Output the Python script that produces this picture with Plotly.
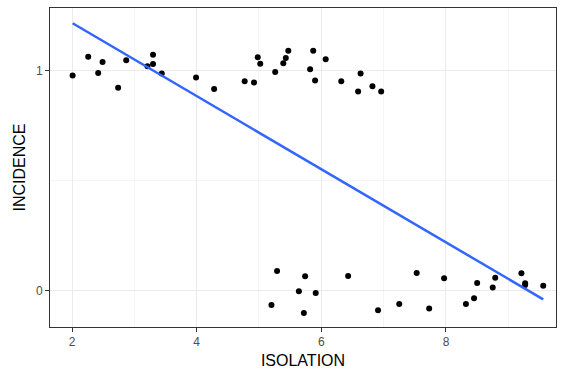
import numpy as np
import plotly.graph_objects as go

isolation = [2.01, 2.26, 2.42, 2.49, 2.74, 2.87, 3.21, 3.30, 3.30, 3.44, 3.99, 4.28, 4.77, 4.92,
             4.98, 5.02, 5.26, 5.39, 5.43, 5.47, 5.82, 5.87, 5.90, 6.07, 6.32, 6.59, 6.63, 6.82, 6.96,
             5.20, 5.29, 5.64, 5.72, 5.74, 5.91, 6.43, 6.91, 7.25, 7.53, 7.73, 7.97, 8.32, 8.45,
             8.50, 8.75, 8.79, 9.21, 9.27, 9.27, 9.56]
incidence = [0.979, 1.064, 0.991, 1.041, 0.923, 1.049, 1.021, 1.073, 1.032, 0.988, 0.970, 0.918, 0.953, 0.947,
             1.062, 1.033, 0.995, 1.035, 1.059, 1.092, 1.008, 1.092, 0.956, 1.053, 0.953, 0.906, 0.988, 0.930, 0.906,
             -0.064, 0.091, -0.001, -0.100, 0.067, -0.010, 0.068, -0.088, -0.060, 0.082, -0.080, 0.058, -0.059, -0.033,
             0.036, 0.015, 0.060, 0.080, 0.035, 0.027, 0.024]

x = np.array(isolation)
y = np.round(np.array(incidence))
slope, intercept = np.polyfit(x, y, 1)
xl = np.array([x.min(), x.max()])
yl = intercept + slope * xl

fig = go.Figure()
fig.add_trace(go.Scatter(x=isolation, y=incidence, mode="markers",
                         marker=dict(color="black", size=6), showlegend=False))
fig.add_trace(go.Scatter(x=xl, y=yl, mode="lines",
                         line=dict(color="#3366FF", width=2.5), showlegend=False))

font = "Liberation Sans, Arial, sans-serif"
fig.update_layout(
    width=576, height=384,
    margin=dict(l=50, r=20, t=8, b=57),
    paper_bgcolor="white", plot_bgcolor="white",
    font=dict(family=font),
)
fig.update_xaxes(
    range=[1.647, 9.765], tickvals=[2, 4, 6, 8], ticktext=["2", "4", "6", "8"],
    showgrid=True, gridcolor="#EBEBEB", gridwidth=1,
    minor=dict(showgrid=True, gridcolor="#F5F5F5", tickvals=[3, 5, 7, 9], gridwidth=0.6),
    ticks="outside", ticklen=4, tickcolor="#333333", tickfont=dict(size=12, color="#4D4D4D"),
    showline=True, linecolor="#333333", mirror=True, linewidth=1, zeroline=False,
    title=dict(text="ISOLATION", font=dict(size=16, color="black"), standoff=6),
)
fig.update_yaxes(
    range=[-0.164, 1.286], tickvals=[0, 1], ticktext=["0", "1"],
    showgrid=True, gridcolor="#EBEBEB", gridwidth=1,
    minor=dict(showgrid=True, gridcolor="#F5F5F5", tickvals=[0.5], gridwidth=0.6),
    ticks="outside", ticklen=4, tickcolor="#333333", tickfont=dict(size=12, color="#4D4D4D"),
    showline=True, linecolor="#333333", mirror=True, linewidth=1, zeroline=False,
    title=dict(text="INCIDENCE", font=dict(size=16, color="black"), standoff=6),
)
fig.write_html("out.html", config={"displayModeBar": False},
               post_script="document.body.style.margin='0';")
